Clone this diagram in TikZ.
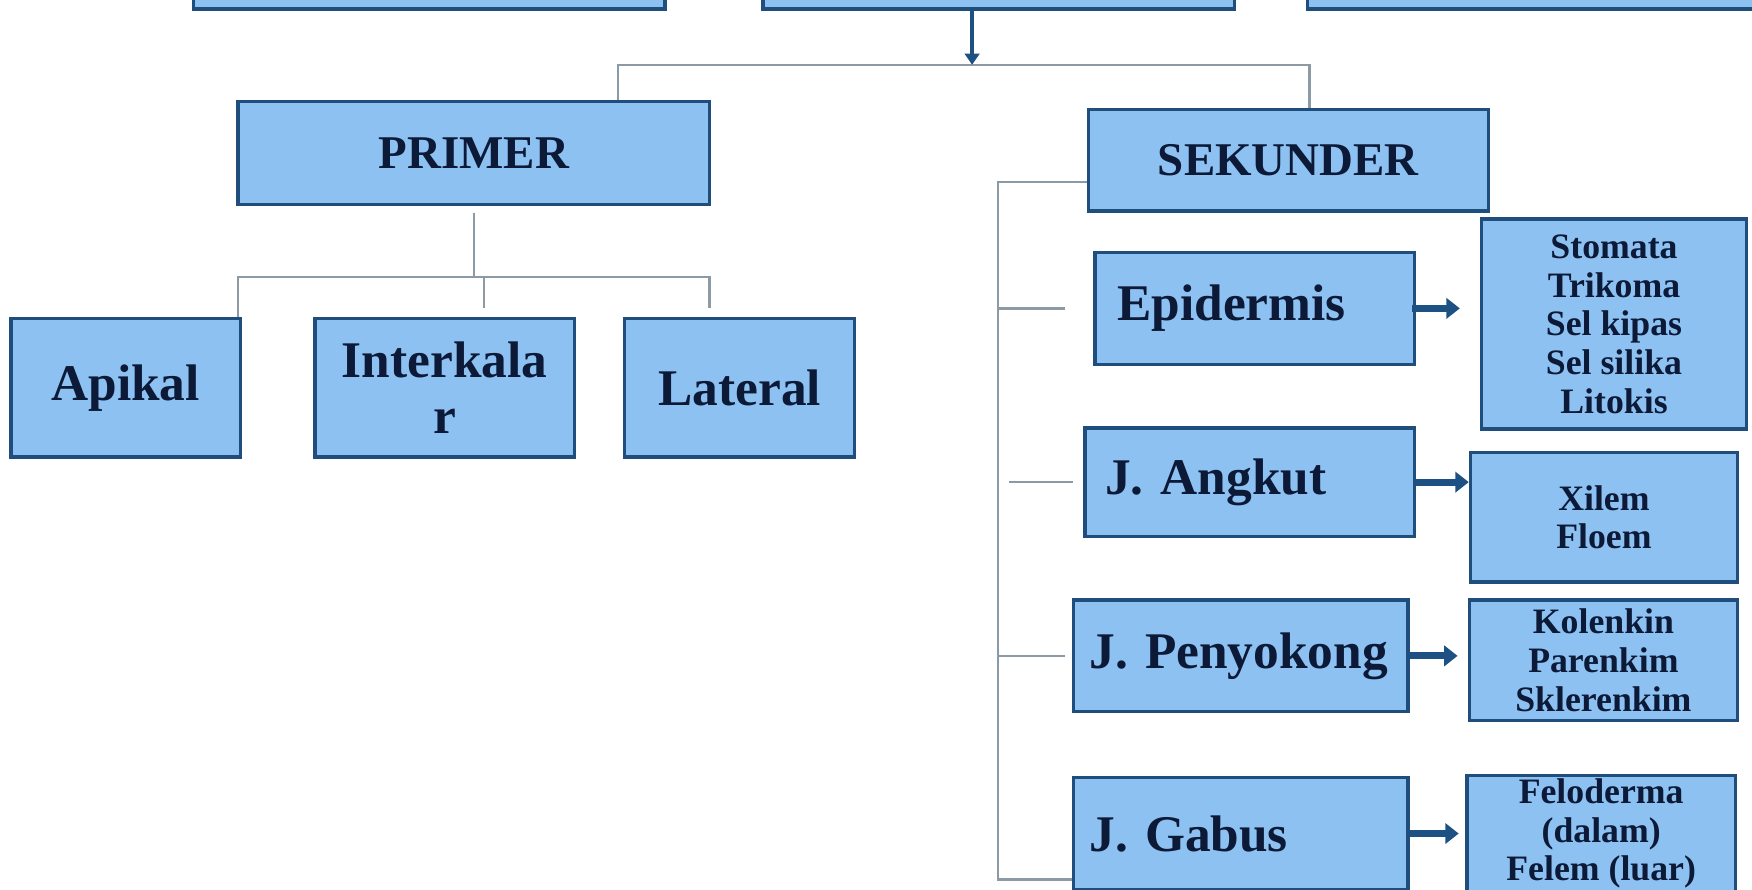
\documentclass[tikz,border=0pt]{standalone}
\usepackage{fontspec}
\setmainfont{Liberation Serif}
\usetikzlibrary{arrows.meta}
\definecolor{boxfill}{HTML}{8DC1F1}
\definecolor{boxline}{HTML}{1F4E7C}
\definecolor{txt}{HTML}{0C1A38}
\definecolor{connc}{HTML}{8C9AA6}
\definecolor{arr}{HTML}{1E5183}
\begin{document}
\begin{tikzpicture}[x=0.5pt,y=-0.5pt,
  bx/.style={draw=boxline, line width=1.5pt, fill=boxfill, text=txt, inner sep=0pt, align=center},
  big/.style={bx, font=\bfseries\fontsize{23}{25}\selectfont},
  head/.style={bx, font=\bfseries\fontsize{21}{24}\selectfont},
  lbox/.style={big, align=left, inner xsep=7pt},
  small/.style={bx, font=\bfseries\fontsize{16}{17.3}\selectfont},
  conn/.style={draw=connc, line width=1.1pt},
  fat/.style={draw=arr, line width=3.2pt, -{Triangle[length=6pt,width=9pt]}},
  thinarr/.style={draw=arr, line width=2pt, -{Triangle[length=5pt,width=6.5pt]}}]
\useasboundingbox (0,0) rectangle (1568,796);
\clip (0,0) rectangle (1568,796);
\fill[white] (0,0) rectangle (1568,796);
% top row (cut off)
\node[bx, minimum width=211pt, minimum height=19pt] (top1) at (384,-11) {};
\node[bx, minimum width=211pt, minimum height=19pt] (top2) at (894,-11) {};
\node[bx, minimum width=215pt, minimum height=19pt] (top3) at (1385,-11) {};
% level 2
\node[head, minimum width=211pt, minimum height=46pt] (primer) at (424,137) {PRIMER};
\node[head, minimum width=179pt, minimum height=45.5pt] (sekunder) at (1153,143.5) {SEKUNDER};
% primer children
\node[big, minimum width=102.5pt, minimum height=62pt] (apikal) at (112.5,347) {Apikal};
\node[big, minimum width=116pt, minimum height=62pt] (interkalar) at (398,347) {Interkala\\r};
\node[big, minimum width=103pt, minimum height=62pt] (lateral) at (662,347) {Lateral};
% sekunder children
\node[lbox, inner xsep=10pt, text width=123pt, minimum height=50pt] (epidermis) at (1123,276) {Epidermis};
\node[lbox, inner xsep=9pt, text width=129.5pt, minimum height=48.5pt] (angkut) at (1118.5,431.5) {J. Angkut};
\node[lbox, text width=135.5pt, minimum height=50pt] (penyokong) at (1110.5,587) {J. Penyokong};
\node[lbox, text width=135.5pt, minimum height=50pt] (gabus) at (1110.5,746) {J. Gabus};
% detail boxes
\node[small, minimum width=118.5pt, minimum height=94pt] (d1) at (1444.5,290) {Stomata\\Trikoma\\Sel kipas\\Sel silika\\Litokis};
\node[small, minimum width=119.5pt, minimum height=58pt] (d2) at (1435.5,463) {Xilem\\Floem};
\node[small, minimum width=120pt, minimum height=54pt] (d3) at (1435,591) {Kolenkin\\Parenkim\\Sklerenkim};
\node[small, minimum width=120pt, minimum height=52pt] (d4) at (1433,746) {Feloderma\\(dalam)\\Felem (luar)};
% top connectors
\coordinate (j) at (870,58);
\coordinate (hl) at (553,58);
\coordinate (hr) at (1172,58);
\draw[conn] (primer.north -| hl) -- (hl) -- (hr) -- (sekunder.north -| hr);
\draw[thinarr] (top2.south -| j) -- (j);
% primer connectors
\coordinate (pj) at (424,248);
\coordinate (pl) at (213,248);
\coordinate (pm) at (433,248);
\coordinate (pr) at (635,248);
\draw[conn] ([yshift=-3pt]primer.south) -- (pj);
\draw[conn] (apikal.north -| pl) -- (pl) -- (pr) -- ([yshift=4pt]lateral.north -| pr);
\draw[conn] (pm) -- ([yshift=4pt]interkalar.north -| pm);
% sekunder bracket
\coordinate (s0) at (893,163);
\coordinate (s4) at (893,787);
\draw[conn] (sekunder.west |- s0) -- (s0) -- (s4) -- (gabus.west |- s4);
\draw[conn] (s0 |- epidermis.west) -- ([xshift=-12.5pt]epidermis.west);
\draw[conn] ([xshift=5pt]s0 |- angkut.west) -- ([xshift=-4.5pt]angkut.west);
\draw[conn] (s0 |- penyokong.west) -- ([xshift=-3pt]penyokong.west);
% arrows
\draw[fat] ([xshift=-2pt]epidermis.east) -- ([xshift=-9pt]d1.west |- epidermis.east);
\draw[fat] (angkut.east) -- (d2.west |- angkut.east);
\draw[fat] (penyokong.east) -- ([xshift=-4.5pt]d3.west |- penyokong.east);
\draw[fat] (gabus.east) -- ([xshift=-3pt]d4.west |- gabus.east);
\end{tikzpicture}
\end{document}
